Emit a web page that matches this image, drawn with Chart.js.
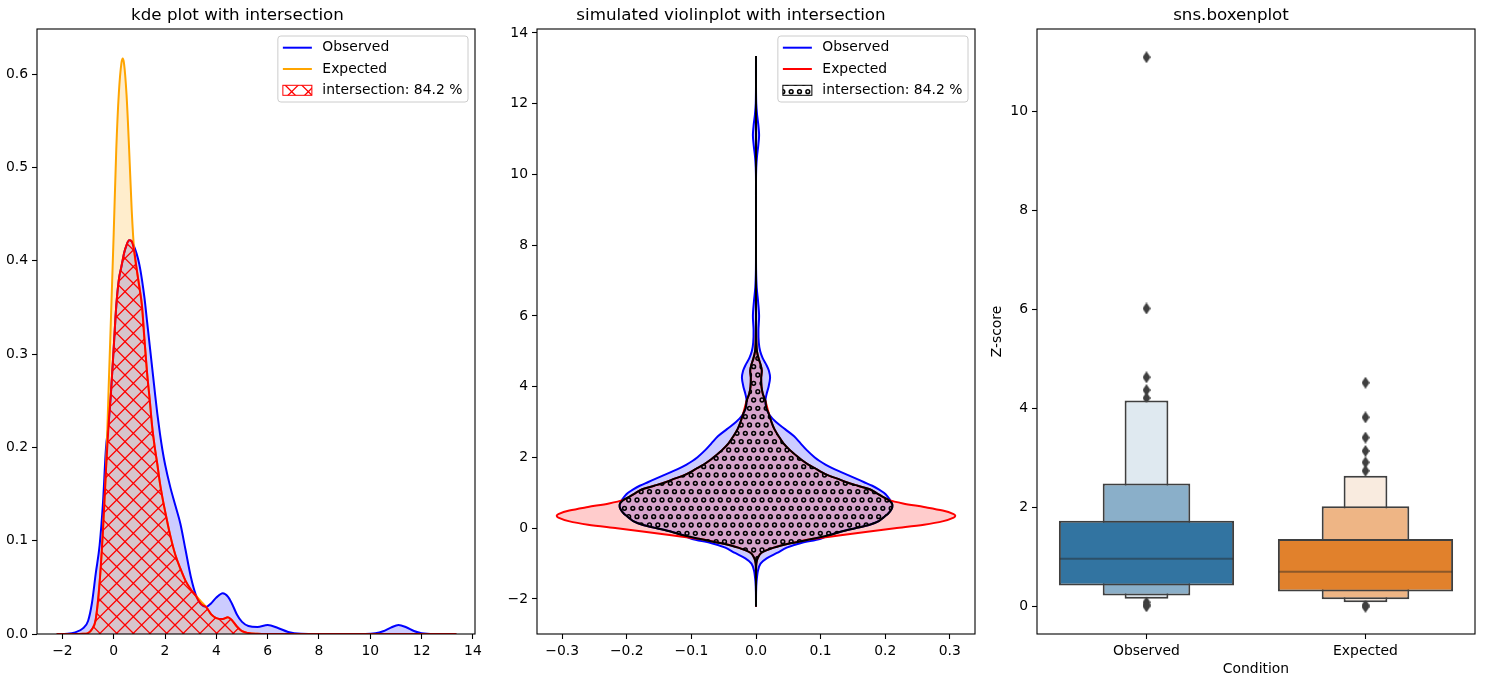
<!DOCTYPE html>
<html>
<head>
<meta charset="utf-8">
<title>kde / violin / boxen</title>
<script src="https://cdn.jsdelivr.net/npm/chart.js@4.4.0/dist/chart.umd.min.js"></script>
<style>
  html, body { margin: 0; padding: 0; background: #fff; overflow: hidden; }
  #fig { position: relative; width: 1487px; height: 690px; overflow: hidden; }
  #fig canvas { position: absolute; top: 0; }
</style>
</head>
<body>
<div id="fig">
  <canvas id="kdeCanvas" width="512" height="690" style="left:0px"></canvas>
  <canvas id="violinCanvas" width="538" height="690" style="left:487px"></canvas>
  <canvas id="boxenCanvas" width="538" height="690" style="left:987px"></canvas>
</div>
<script>
// ---- data -------------------------------------------------------------

// common grid of z-score values for both densities
const kdeGrid = [-2.22, -1.8, -1.5, -1.2, -1.0, -0.85, -0.7, -0.55, -0.42, -0.3,
                 -0.2, -0.1, 0.0, 0.1, 0.2, 0.3, 0.35, 0.4, 0.5, 0.6,
                 0.7, 0.8, 0.9, 1.0, 1.1, 1.2, 1.3, 1.4, 1.5, 1.6,
                 1.7, 1.8, 1.9, 2.0, 2.2, 2.4, 2.6, 2.8, 3.0, 3.2,
                 3.4, 3.6, 3.8, 4.0, 4.25, 4.45, 4.6, 4.8, 5.0, 5.25,
                 5.6, 6.0, 6.4, 6.8, 7.3, 8.0, 9.0, 9.8, 10.2, 10.5,
                 10.8, 11.1, 11.4, 11.7, 12.0, 12.5, 13.35];

const observedDensity = [0, 0.0003, 0.0018, 0.006, 0.014, 0.033, 0.065, 0.095, 0.14, 0.2,
                         0.225, 0.262, 0.307, 0.352, 0.38, 0.394, 0.401, 0.408, 0.417, 0.422,
                         0.421, 0.415, 0.407, 0.396, 0.38, 0.36, 0.335, 0.31, 0.285, 0.26,
                         0.236, 0.215, 0.197, 0.182, 0.158, 0.138, 0.118, 0.09, 0.062, 0.042,
                         0.032, 0.029, 0.033, 0.039, 0.0436, 0.04, 0.033, 0.021, 0.013, 0.0086,
                         0.0075, 0.0096, 0.0065, 0.0022, 0.0003, 0, 0, 0, 0.0008, 0.003,
                         0.0068, 0.0096, 0.0072, 0.0032, 0.0008, 0, 0];

const expectedDensity = [0, 0, 0, 0.0002, 0.001, 0.005, 0.016, 0.055, 0.111, 0.177,
                         0.262, 0.345, 0.43, 0.52, 0.58, 0.612, 0.617, 0.612, 0.578, 0.52,
                         0.455, 0.41, 0.39, 0.372, 0.352, 0.315, 0.28, 0.252, 0.222, 0.2,
                         0.182, 0.162, 0.146, 0.132, 0.106, 0.085, 0.07, 0.057, 0.048, 0.041,
                         0.035, 0.029, 0.021, 0.017, 0.016, 0.018, 0.015, 0.008, 0.003, 0.001,
                         0.0002, 0, 0, 0, 0, 0, 0, 0, 0, 0,
                         0, 0, 0, 0, 0, 0, 0];

const overlapPercent = 84.2;

const kdeXTicks = [-2, 0, 2, 4, 6, 8, 10, 12, 14];
const kdeXTickLabels = ['−2', '0', '2', '4', '6', '8', '10', '12', '14'];
const kdeYTicks = [0, 0.1, 0.2, 0.3, 0.4, 0.5, 0.6];
const kdeYTickLabels = ['0.0', '0.1', '0.2', '0.3', '0.4', '0.5', '0.6'];

const violinXTicks = [-0.3, -0.2, -0.1, 0, 0.1, 0.2, 0.3];
const violinXTickLabels = ['−0.3', '−0.2', '−0.1', '0.0', '0.1', '0.2', '0.3'];
const violinYTicks = [-2, 0, 2, 4, 6, 8, 10, 12, 14];
const violinYTickLabels = ['−2', '0', '2', '4', '6', '8', '10', '12', '14'];

// boxenplot: letter-value boxes [low, high] per condition
const boxCategories = ['Observed', 'Expected'];
const boxLevel1 = [[0.42, 1.73], [0.30, 1.36]];
const boxLevel2 = [[0.22, 2.48], [0.14, 2.02]];
const boxLevel3 = [[0.155, 4.16], [0.08, 2.64]];
const boxMedians = [0.96, 0.70];
const outliersObserved = [11.1, 6.02, 4.63, 4.37, 4.21, 0.08, 0.03, 0.0];
const outliersExpected = [4.52, 3.82, 3.41, 3.14, 2.91, 2.74, 0.02, -0.01];
const boxYTicks = [0, 2, 4, 6, 8, 10];
const boxYTickLabels = ['0', '2', '4', '6', '8', '10'];

// ---- styling ------------------------------------------------------------
const FONT = "'DejaVu Sans', sans-serif";
const TICK_SIZE = 13.9;
const EDGE = '#3f3f3f';
const level1Colors = ['#3274a1', '#e1812c'];
const level2Colors = ['#8aafc9', '#eeb585'];
const level3Colors = ['#dfe9f0', '#f9ebdf'];
const VIOLIN_SCALE = 0.5;   // half width of the violin = density * scale
const BOX_WIDTH = 0.8;

Chart.defaults.font.family = FONT;
Chart.defaults.font.size = TICK_SIZE;
Chart.defaults.color = '#000';
Chart.defaults.animation = false;

function crossHatch(ctx, color) {
    // matplotlib 'x' hatch: 6 lines per 100px in each direction
    const s = 50, step = s / 3;
    const tile = document.createElement('canvas');
    tile.width = s; tile.height = s;
    const g = tile.getContext('2d');
    g.strokeStyle = color;
    g.lineWidth = 1.3;
    g.beginPath();
    for (let k = -3; k <= 3; k++) {
        g.moveTo(k * step, 0); g.lineTo(k * step + s, s);
        g.moveTo(k * step, s); g.lineTo(k * step + s, 0);
    }
    g.stroke();
    return ctx.createPattern(tile, 'repeat');
}

function ringHatch(ctx, color) {
    // matplotlib 'oo' hatch: staggered small rings
    const s = 50, n = 6, step = s / n;
    const tile = document.createElement('canvas');
    tile.width = s; tile.height = s;
    const g = tile.getContext('2d');
    g.strokeStyle = color;
    g.lineWidth = 1.5;
    for (let r = 0; r <= n; r++) {
        for (let k = -1; k <= n + 1; k++) {
            const x = r % 2 === 0 ? k * step : (k + 0.5) * step;
            g.beginPath();
            g.arc(x, r * step, 1.9, 0, 2 * Math.PI);
            g.stroke();
        }
    }
    return ctx.createPattern(tile, 'repeat');
}

function thinDiamond(w, h, color) {
    const c = document.createElement('canvas');
    c.width = w; c.height = h;
    const g = c.getContext('2d');
    g.fillStyle = color;
    g.beginPath();
    g.moveTo(w / 2, 0); g.lineTo(w, h / 2); g.lineTo(w / 2, h); g.lineTo(0, h / 2);
    g.closePath();
    g.fill();
    return c;
}

// four spines round the plot area
const framePlugin = {
    id: 'frame',
    afterDatasetsDraw(chart) {
        const {ctx, chartArea: a} = chart;
        ctx.save();
        ctx.strokeStyle = '#000';
        ctx.lineWidth = 1.1;
        ctx.strokeRect(a.left, a.top, a.right - a.left, a.bottom - a.top);
        ctx.restore();
    }
};

// matplotlib-like legend box in the upper right corner
function makeLegend(items) {
    return {
        id: 'mplLegend',
        afterDraw(chart) {
            const {ctx, chartArea: a} = chart;
            ctx.save();
            ctx.font = TICK_SIZE + 'px ' + FONT;
            const textW = Math.max(...items.map(it => ctx.measureText(it.label).width));
            const w = 44.5 + textW + 5.6;
            const h = 23.4 + 21.3 * (items.length - 1);
            const x0 = a.right - 7 - w, y0 = a.top + 7;
            ctx.beginPath();
            ctx.roundRect(x0, y0, w, h, 3);
            ctx.fillStyle = 'rgba(255,255,255,0.8)';
            ctx.fill();
            ctx.strokeStyle = '#cccccc';
            ctx.lineWidth = 1;
            ctx.stroke();
            items.forEach((it, i) => {
                const cy = y0 + 11.7 + 21.3 * i;
                if (it.patch) {
                    ctx.fillStyle = '#fff';
                    ctx.fillRect(x0 + 5, cy - 5, 29, 10);
                    ctx.fillStyle = it.patch;
                    ctx.fillRect(x0 + 5, cy - 5, 29, 10);
                    ctx.strokeStyle = it.color;
                    ctx.lineWidth = 1;
                    ctx.strokeRect(x0 + 5, cy - 5, 29, 10);
                } else {
                    ctx.strokeStyle = it.color;
                    ctx.lineWidth = 2;
                    ctx.beginPath();
                    ctx.moveTo(x0 + 5, cy);
                    ctx.lineTo(x0 + 34, cy);
                    ctx.stroke();
                }
                ctx.fillStyle = '#000';
                ctx.textAlign = 'left';
                ctx.textBaseline = 'middle';
                ctx.fillText(it.label, x0 + 44.5, cy);
            });
            ctx.restore();
        }
    };
}

function linearAxis(min, max, values, labels, fit) {
    return {
        type: 'linear',
        min: min,
        max: max,
        grid: {drawOnChartArea: false, drawTicks: true, tickLength: 5, tickWidth: 1.1, tickColor: '#000'},
        border: {display: false},
        afterBuildTicks: (scale) => { scale.ticks = values.map(v => ({value: v})); },
        afterFit: fit,
        ticks: {autoSkip: false, maxRotation: 0, padding: 4, color: '#000',
                callback: (v, i) => labels[i]}
    };
}

function titleOptions(text) {
    return {display: true, text: text, color: '#000',
            font: {size: 16.7, weight: 'normal', lineHeight: '20px'},
            padding: {top: 6, bottom: 3}};
}

// ---- kde plot ------------------------------------------------------------
function createKdeChart() {
    const canvas = document.getElementById('kdeCanvas');
    const ctx = canvas.getContext('2d');
    const hatch = crossHatch(ctx, 'red');
    const intersection = kdeGrid.map((x, i) => ({x: x, y: Math.min(observedDensity[i], expectedDensity[i])}));

    const datasets = [
        {
            label: 'Observed',
            data: kdeGrid.map((x, i) => ({x: x, y: observedDensity[i]})),
            borderColor: 'blue',
            backgroundColor: 'rgba(0,0,255,0.2)',
            fill: 'origin',
            order: 3
        },
        {
            label: 'Expected',
            data: kdeGrid.map((x, i) => ({x: x, y: expectedDensity[i]})),
            borderColor: 'orange',
            backgroundColor: 'rgba(255,165,0,0.2)',
            fill: 'origin',
            order: 2
        },
        {
            label: 'intersection: ' + overlapPercent.toFixed(1) + ' %',
            data: intersection,
            borderColor: 'red',
            backgroundColor: hatch,
            fill: 'origin',
            order: 1
        }
    ];

    return new Chart(ctx, {
        type: 'line',
        data: {datasets: datasets},
        options: {
            responsive: false,
            layout: {padding: {left: 0, right: 37, top: 0, bottom: 0}},
            elements: {
                point: {radius: 0},
                line: {borderWidth: 2, cubicInterpolationMode: 'monotone'}
            },
            plugins: {
                legend: {display: false},
                tooltip: {enabled: false},
                title: titleOptions('kde plot with intersection')
            },
            scales: {
                x: linearAxis(-2.99, 14.08, kdeXTicks, kdeXTickLabels, s => { s.height = 56; }),
                y: linearAxis(0, 0.6486, kdeYTicks, kdeYTickLabels, s => { s.width = 37; })
            }
        },
        plugins: [framePlugin, makeLegend([
            {label: 'Observed', color: 'blue'},
            {label: 'Expected', color: 'orange'},
            {label: 'intersection: ' + overlapPercent.toFixed(1) + ' %', color: 'red', patch: hatch}
        ])]
    });
}

// ---- simulated violin plot ------------------------------------------------
function violinShape(density) {
    const right = kdeGrid.map((v, i) => ({x: density[i] * VIOLIN_SCALE, y: v}));
    const left = kdeGrid.map((v, i) => ({x: -density[i] * VIOLIN_SCALE, y: v})).reverse();
    return right.concat(left.slice(1));
}

function createViolinChart() {
    const canvas = document.getElementById('violinCanvas');
    const ctx = canvas.getContext('2d');
    const hatch = ringHatch(ctx, 'black');
    const minDensity = kdeGrid.map((_, i) => Math.min(observedDensity[i], expectedDensity[i]));

    const datasets = [
        {label: 'Observed', data: violinShape(observedDensity), borderColor: 'blue',
         backgroundColor: 'rgba(0,0,255,0.2)', order: 3},
        {label: 'Expected', data: violinShape(expectedDensity), borderColor: 'red',
         backgroundColor: 'rgba(255,0,0,0.2)', order: 2},
        {label: 'intersection', data: violinShape(minDensity), borderColor: 'black',
         backgroundColor: hatch, order: 1}
    ];

    return new Chart(ctx, {
        type: 'line',
        data: {datasets: datasets},
        options: {
            responsive: false,
            layout: {padding: {left: 0, right: 50, top: 0, bottom: 0}},
            elements: {
                point: {radius: 0},
                line: {borderWidth: 2, tension: 0.3, fill: 'shape'}
            },
            plugins: {
                legend: {display: false},
                tooltip: {enabled: false},
                title: titleOptions('simulated violinplot with intersection')
            },
            scales: {
                x: linearAxis(-0.339, 0.339, violinXTicks, violinXTickLabels, s => { s.height = 56; }),
                y: linearAxis(-2.99, 14.11, violinYTicks, violinYTickLabels, s => { s.width = 50; })
            }
        },
        plugins: [framePlugin, makeLegend([
            {label: 'Observed', color: 'blue'},
            {label: 'Expected', color: 'red'},
            {label: 'intersection: ' + overlapPercent.toFixed(1) + ' %', color: 'black', patch: hatch}
        ])]
    });
}

// ---- boxenplot ---------------------------------------------------------------
function createBoxenChart() {
    const ctx = document.getElementById('boxenCanvas').getContext('2d');
    const diamond = thinDiamond(8, 12, EDGE);

    const levelSet = (data, colors, pct, order) => ({
        type: 'bar', data: data, backgroundColor: colors, barPercentage: pct, order: order
    });
    // median drawn as a 'line' point style as wide as the widest box
    const medianSet = {
        type: 'scatter', order: 0,
        data: boxCategories.map((c, i) => ({x: c, y: boxMedians[i]})),
        pointStyle: 'line',
        pointRadius: (c) => c.chart.scales.x.width / boxCategories.length * BOX_WIDTH / 2 - 1,
        pointBorderColor: 'rgba(38,38,38,0.45)',
        pointBorderWidth: 2
    };
    const outlierSet = (cat, values) => ({
        type: 'scatter', order: 5,
        data: values.map(v => ({x: cat, y: v})),
        pointStyle: diamond, pointRadius: 6
    });

    const yAxis = linearAxis(-0.56, 11.67, boxYTicks, boxYTickLabels, s => { s.width = 50; });
    yAxis.title = {display: true, text: 'Z-score', color: '#000', font: {size: TICK_SIZE},
                   padding: {top: 2, bottom: 0}};

    return new Chart(ctx, {
        type: 'bar',
        data: {
            labels: boxCategories,
            datasets: [
                levelSet(boxLevel1, level1Colors, BOX_WIDTH, 1),
                levelSet(boxLevel2, level2Colors, BOX_WIDTH / 2, 2),
                levelSet(boxLevel3, level3Colors, BOX_WIDTH / 4, 3),
                medianSet,
                outlierSet(boxCategories[0], outliersObserved),
                outlierSet(boxCategories[1], outliersExpected)
            ]
        },
        options: {
            responsive: false,
            layout: {padding: {left: 0, right: 50, top: 0, bottom: 0}},
            datasets: {
                bar: {grouped: false, categoryPercentage: 1, borderColor: EDGE, borderWidth: 2,
                      borderSkipped: false}
            },
            plugins: {
                legend: {display: false},
                tooltip: {enabled: false},
                title: titleOptions('sns.boxenplot')
            },
            scales: {
                x: {
                    type: 'category',
                    offset: true,
                    grid: {offset: false, drawOnChartArea: false, drawTicks: true, tickLength: 5,
                           tickWidth: 1.1, tickColor: '#000'},
                    border: {display: false},
                    ticks: {padding: 4, color: '#000', maxRotation: 0},
                    title: {display: true, text: 'Condition', color: '#000', font: {size: TICK_SIZE},
                            padding: {top: 0, bottom: 12}},
                    afterFit: s => { s.height = 56; }
                },
                y: yAxis
            }
        },
        plugins: [framePlugin]
    });
}

function main() {
    createKdeChart();
    createViolinChart();
    createBoxenChart();
}

main();
</script>
</body>
</html>
